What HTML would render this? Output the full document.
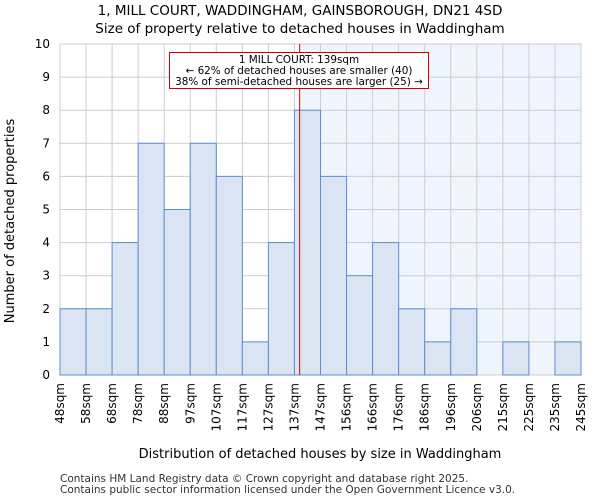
<!DOCTYPE html>
<html><head><meta charset="utf-8"><style>
body{margin:0;background:#fff;font-family:"DejaVu Sans","Liberation Sans",sans-serif;}
</style></head><body>
<svg id="c" width="600" height="500" xmlns="http://www.w3.org/2000/svg" font-family="DejaVu Sans, Liberation Sans, sans-serif"></svg>
<script>
const categories=["48sqm","58sqm","68sqm","78sqm","88sqm","97sqm","107sqm","117sqm","127sqm","137sqm","147sqm","156sqm","166sqm","176sqm","186sqm","196sqm","206sqm","215sqm","225sqm","235sqm","245sqm"];
const counts=[2,2,4,7,5,7,6,1,4,8,6,3,4,2,1,2,0,1,0,1];
const yTicks=[0,1,2,3,4,5,6,7,8,9,10];
const markerBin=9.2;
const svg=document.getElementById('c');
const NS='http://www.w3.org/2000/svg';
const L=60,R=581,T=44,B=375;
const bw=(R-L)/counts.length;
const x=i=>L+i*bw;
const y=v=>B-(v/10)*(B-T);
function add(tag,a,txt){const e=document.createElementNS(NS,tag);for(const k in a)e.setAttribute(k,a[k]);if(txt!=null)e.textContent=txt;svg.appendChild(e);return e;}
const mx=x(markerBin);
let e=add('rect',{x:mx,y:T,width:R-mx,height:B-T,fill:'#f0f4fd'});

yTicks.forEach(v=>{let g=add('line',{x1:L,x2:R,y1:y(v),y2:y(v),stroke:'#cccccc','stroke-width':1});

let t=add('text',{x:L-10,y:y(v)+4,'text-anchor':'end','font-size':12,fill:'#000'},v);
});
for(let i=0;i<=counts.length;i++){let g=add('line',{x1:x(i),x2:x(i),y1:T,y2:B,stroke:'#cccccc','stroke-width':1});
}
counts.forEach((c,i)=>{if(c<=0)return;let r=add('rect',{x:x(i),y:y(c),width:bw,height:B-y(c),fill:'#dae4f3',stroke:'#5a8fd0','stroke-width':1});
});
categories.forEach((c,i)=>{const px=x(i)+4,py=B+8;let t=add('text',{x:px,y:py,transform:`rotate(-90 ${px} ${py})`,'text-anchor':'end','font-size':12,fill:'#000'},c);
});
e=add('line',{x1:mx,x2:mx,y1:T,y2:B,stroke:'#dd0000','stroke-width':1});

e=add('rect',{x:169.5,y:52.5,width:259,height:36,fill:'#fff',stroke:'#cc0000','stroke-width':1});

[["1 MILL COURT: 139sqm",63],["← 62% of detached houses are smaller (40)",74],["38% of semi-detached houses are larger (25) →",85]].forEach(([s,yy])=>{let t=add('text',{x:299,y:yy,'text-anchor':'middle','font-size':10.4,fill:'#000'},s);
});
e=add('text',{x:300,y:15,'text-anchor':'middle','font-size':13.5},"1, MILL COURT, WADDINGHAM, GAINSBOROUGH, DN21 4SD");

e=add('text',{x:300,y:33,'text-anchor':'middle','font-size':13.5},"Size of property relative to detached houses in Waddingham");

e=add('text',{x:14,y:221,transform:'rotate(-90 14 221)','text-anchor':'middle','font-size':13},"Number of detached properties");

e=add('text',{x:320,y:458,'text-anchor':'middle','font-size':13},"Distribution of detached houses by size in Waddingham");

e=add('text',{x:60,y:482,'font-size':10.5,fill:'#333'},"Contains HM Land Registry data © Crown copyright and database right 2025.");

e=add('text',{x:60,y:493,'font-size':10.5,fill:'#333'},"Contains public sector information licensed under the Open Government Licence v3.0.");

</script>
</body></html>
